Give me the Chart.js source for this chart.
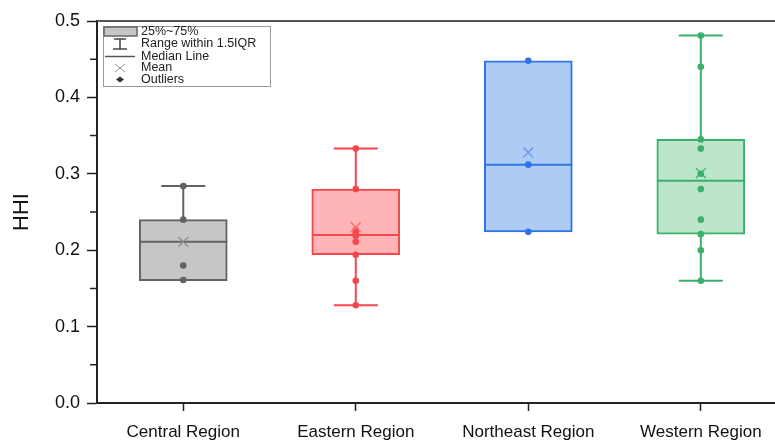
<!DOCTYPE html>
<html>
<head>
<meta charset="utf-8">
<title>HHI by region</title>
<script src="https://cdn.jsdelivr.net/npm/chart.js@4/dist/chart.umd.min.js"></script>
<style>
    body { margin: 0; background: #fff; }
    #wrap { width: 775px; height: 441px; position: relative; }
</style>
</head>
<body>
<div id="wrap"><canvas id="chart"></canvas></div>
<script>
// Data
const regions = ['Central Region', 'Eastern Region', 'Northeast Region', 'Western Region'];
const q1 = [0.160, 0.194, 0.224, 0.221];
const q3 = [0.240, 0.280, 0.448, 0.345];
const medians = [0.211, 0.220, 0.312, 0.291];
const means = [0.211, 0.230, 0.328, 0.301];
const whiskerLow = [0.160, 0.128, 0.224, 0.160];
const whiskerHigh = [0.284, 0.333, 0.448, 0.481];
const centralPoints = [0.284, 0.240, 0.180, 0.161];
const easternPoints = [0.333, 0.280, 0.226, 0.222, 0.219, 0.211, 0.194, 0.160, 0.128];
const northeastPoints = [0.448, 0.312, 0.224];
const westernPoints = [0.481, 0.440, 0.345, 0.333, 0.300, 0.280, 0.240, 0.221, 0.200, 0.160];
const yTicks = [0, 0.1, 0.2, 0.3, 0.4, 0.5];

const allPoints = [centralPoints, easternPoints, northeastPoints, westernPoints];

// Styles
const fills = ['#c6c6c6', '#ffb5b5', '#aecbf4', '#bde5cc'];
const borders = ['#636363', '#f5474d', '#2e74e6', '#3bb06c'];
const meanColors = ['#8c8c8c', '#f46a6a', '#6396e6', '#3bb06c'];
const boxWidth = 88;
const capHalf = 22;
const font = '"Liberation Sans", Arial, sans-serif';

// whiskers + median lines, drawn right after the boxes
const boxExtras = {
    id: 'boxExtras',
    afterDatasetDraw(chart, args) {
        if (args.index !== 0) return;
        const ctx = chart.ctx;
        const x = chart.scales.x, y = chart.scales.y;
        ctx.save();
        ctx.lineWidth = 2;
        regions.forEach((r, i) => {
            const cx = x.getPixelForValue(i + 1);
            ctx.strokeStyle = borders[i];
            ctx.beginPath();
            // upper whisker
            if (whiskerHigh[i] > q3[i]) {
                ctx.moveTo(cx, y.getPixelForValue(q3[i]));
                ctx.lineTo(cx, y.getPixelForValue(whiskerHigh[i]));
                ctx.moveTo(cx - capHalf, y.getPixelForValue(whiskerHigh[i]));
                ctx.lineTo(cx + capHalf, y.getPixelForValue(whiskerHigh[i]));
            }
            // lower whisker
            if (whiskerLow[i] < q1[i]) {
                ctx.moveTo(cx, y.getPixelForValue(q1[i]));
                ctx.lineTo(cx, y.getPixelForValue(whiskerLow[i]));
                ctx.moveTo(cx - capHalf, y.getPixelForValue(whiskerLow[i]));
                ctx.lineTo(cx + capHalf, y.getPixelForValue(whiskerLow[i]));
            }
            // median
            const my = y.getPixelForValue(medians[i]);
            ctx.moveTo(cx - boxWidth / 2, my);
            ctx.lineTo(cx + boxWidth / 2, my);
            ctx.stroke();
        });
        ctx.restore();
    }
};

// top frame line, minor ticks and the legend box
const frameAndLegend = {
    id: 'frameAndLegend',
    afterDraw(chart) {
        const ctx = chart.ctx;
        const area = chart.chartArea;
        const y = chart.scales.y;
        ctx.save();

        ctx.strokeStyle = '#555';
        ctx.lineWidth = 2;
        ctx.beginPath();
        ctx.moveTo(area.left, area.top);
        ctx.lineTo(chart.width, area.top);
        ctx.stroke();

        ctx.strokeStyle = '#222';
        ctx.lineWidth = 1.5;
        ctx.beginPath();
        for (let i = 0; i < yTicks.length - 1; i++) {
            const py = y.getPixelForValue((yTicks[i] + yTicks[i + 1]) / 2);
            ctx.moveTo(area.left - 7, py);
            ctx.lineTo(area.left, py);
        }
        ctx.stroke();

        // legend
        const lx = 103, ly = 26, lw = 167, lh = 60;
        ctx.fillStyle = '#fff';
        ctx.fillRect(lx, ly, lw, lh);
        ctx.strokeStyle = '#9a9a9a';
        ctx.lineWidth = 1;
        ctx.strokeRect(lx + 0.5, ly + 0.5, lw, lh);

        const ix = 120, rows = [31.5, 44, 56.5, 68, 79.5];
        // box icon
        ctx.fillStyle = '#c6c6c6';
        ctx.fillRect(ix - 16, rows[0] - 4.5, 33, 9);
        ctx.strokeStyle = '#666';
        ctx.lineWidth = 1.5;
        ctx.strokeRect(ix - 16, rows[0] - 4.5, 33, 9);
        // whisker icon
        ctx.strokeStyle = '#444';
        ctx.lineWidth = 1.5;
        ctx.beginPath();
        ctx.moveTo(ix - 6, rows[1] - 5); ctx.lineTo(ix + 6, rows[1] - 5);
        ctx.moveTo(ix, rows[1] - 5); ctx.lineTo(ix, rows[1] + 5);
        ctx.moveTo(ix - 7, rows[1] + 5); ctx.lineTo(ix + 7, rows[1] + 5);
        ctx.stroke();
        // median icon
        ctx.strokeStyle = '#555';
        ctx.beginPath();
        ctx.moveTo(ix - 15, rows[2]); ctx.lineTo(ix + 15, rows[2]);
        ctx.stroke();
        // mean icon
        ctx.strokeStyle = '#999';
        ctx.lineWidth = 1;
        ctx.beginPath();
        ctx.moveTo(ix - 5, rows[3] - 4); ctx.lineTo(ix + 5, rows[3] + 4);
        ctx.moveTo(ix - 5, rows[3] + 4); ctx.lineTo(ix + 5, rows[3] - 4);
        ctx.stroke();
        // outlier icon
        ctx.fillStyle = '#333';
        ctx.beginPath();
        ctx.moveTo(ix - 4, rows[4]); ctx.lineTo(ix, rows[4] - 3);
        ctx.lineTo(ix + 4, rows[4]); ctx.lineTo(ix, rows[4] + 3);
        ctx.closePath();
        ctx.fill();

        ctx.fillStyle = '#222';
        ctx.font = '12.5px ' + font;
        ctx.textBaseline = 'middle';
        const labels = ['25%~75%', 'Range within 1.5IQR', 'Median Line', 'Mean', 'Outliers'];
        labels.forEach((t, i) => ctx.fillText(t, 141, rows[i]));

        ctx.restore();
    }
};

const datasets = [{
    type: 'bar',
    data: regions.map((r, i) => ({ x: i + 1, y: [q1[i], q3[i]] })),
    backgroundColor: fills,
    borderColor: borders,
    borderWidth: 2,
    borderSkipped: false,
    barThickness: boxWidth,
    order: 10
}];

allPoints.forEach((pts, i) => {
    datasets.push({
        type: 'scatter',
        data: pts.map(v => ({ x: i + 1, y: v })),
        pointStyle: 'circle',
        pointRadius: 3.3,
        backgroundColor: borders[i],
        borderColor: borders[i],
        borderWidth: 0,
        order: 2
    });
});

datasets.push({
    type: 'scatter',
    data: means.map((v, i) => ({ x: i + 1, y: v })),
    pointStyle: 'crossRot',
    pointRadius: 7,
    borderColor: meanColors,
    borderWidth: 1.3,
    order: 1
});

new Chart(document.getElementById('chart'), {
    data: { datasets },
    options: {
        responsive: true,
        maintainAspectRatio: false,
        animation: false,
        layout: { autoPadding: false, padding: { top: 21, right: 0, left: 0, bottom: 0 } },
        plugins: { legend: { display: false }, tooltip: { enabled: false } },
        scales: {
            x: {
                type: 'linear',
                min: 0.5,
                max: 4.43,
                offset: false,
                afterBuildTicks: scale => { scale.ticks = regions.map((r, i) => ({ value: i + 1 })); },
                afterFit: scale => {
                    scale.height = 38;
                    scale.paddingLeft = 0;
                    scale.paddingRight = 0;
                },
                ticks: {
                    callback: v => regions[v - 1],
                    color: '#111',
                    font: { family: font, size: 17 },
                    padding: 11,
                    maxRotation: 0,
                    autoSkip: false
                },
                grid: { offset: false, drawOnChartArea: false, tickLength: 8, color: '#222', tickWidth: 1.5 },
                border: { color: '#222', width: 2 }
            },
            y: {
                min: 0,
                max: 0.5,
                afterBuildTicks: scale => { scale.ticks = yTicks.map(v => ({ value: v })); },
                afterFit: scale => { scale.width = 97; },
                ticks: {
                    callback: v => v.toFixed(1),
                    color: '#111',
                    font: { family: font, size: 18 },
                    padding: 7
                },
                grid: { drawOnChartArea: false, tickLength: 10, color: '#222', tickWidth: 1.5 },
                border: { color: '#222', width: 2 },
                title: {
                    display: true,
                    text: 'HHI',
                    color: '#111',
                    font: { family: font, size: 22 },
                    padding: { top: 9, bottom: 0 }
                }
            }
        }
    },
    plugins: [boxExtras, frameAndLegend]
});
</script>
</body>
</html>
